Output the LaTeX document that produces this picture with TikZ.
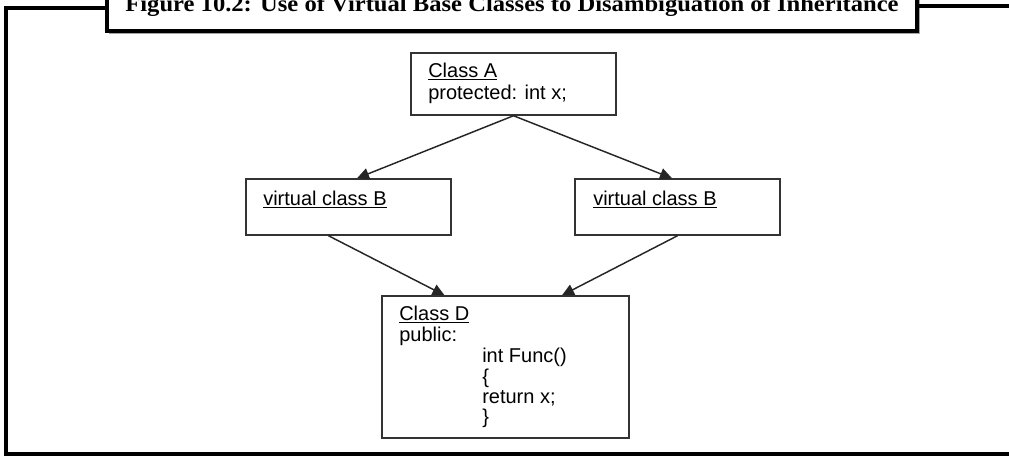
\documentclass[tikz,border=0pt]{standalone}
\usepackage{fontspec}
\setmainfont{Liberation Serif}
\newfontfamily\arialfont{Liberation Sans}
\newfontfamily\ttlfont[FakeStretch=1.085]{Liberation Serif Bold}
\usetikzlibrary{arrows.meta,fit,calc}
\begin{document}
\begin{tikzpicture}[x=0.75pt,y=-0.75pt,
  box/.style={draw=black!80, line width=1.1pt, rectangle, inner sep=0pt},
  titlebox/.style={draw=black, line width=2.3pt, rectangle, inner sep=0pt},
  frameline/.style={line width=2.3pt, black},
  txt/.style={font=\arialfont\fontsize{15pt}{18pt}\selectfont, inner sep=0pt, anchor=base west},
  arr/.style={draw=black!85, line width=1.1pt, -{Triangle[length=9pt,width=8.5pt]}},
  ttl/.style={font=\ttlfont\fontsize{17pt}{20pt}\selectfont, inner sep=0pt, anchor=base}]
\useasboundingbox (0,0) rectangle (1009,455);
\clip (0,0) rectangle (1009,455);
% frame and title
\draw[black!35, line width=1.2pt] (109,33) -- (919,33) -- (919,-30);
\node[titlebox, fit={(107,-30) (917,31)}] (T) {};
\node[ttl] (title) at (512,11) {Figure 10.2: Use of Virtual Base Classes to Disambiguation of Inheritance};
\draw[frameline] (T.west |- 0,8) -- (6,8) -- (6,454) -- (1009,454);
\draw[frameline] (T.east |- 0,6) -- (1009,6);
% boxes
\node[box, fit={(411,53) (616,115)}] (A) {};
\node[box, fit={(246,179) (451,235)}] (B1) {};
\node[box, fit={(575,179) (780,235)}] (B2) {};
\node[box, fit={(382,296) (629,438)}] (D) {};
% texts
\node[txt] (a1) at (428,77) {\underline{Class A}};
\node[txt] (a2) at (428,99) {protected: int x;};
\node[txt] (b1) at (263,205) {\underline{virtual class B}};
\node[txt] (b2) at (593,205) {\underline{virtual class B}};
\node[txt] (d1) at (399,320) {\underline{Class D}};
\node[txt] (d2) at (399,341) {public:};
\node[txt] (d3) at (482,362) {int Func()};
\node[txt] (d4) at (482,383) {\{};
\node[txt] (d5) at (482,403) {return x;};
\node[txt] (d6) at (482,423) {\}};
% connectors
\draw[arr] (A.south) -- ($(B1.north)+(8.5,0)$);
\draw[arr] (A.south) -- ($(B2.north)+(-5.5,0)$);
\draw[arr] ($(B1.south)+(-20,0)$) -- ($(D.north)+(-61,0)$);
\draw[arr] ($(B2.south)+(0,0)$) -- ($(D.north)+(56.5,0)$);
\end{tikzpicture}
\end{document}
